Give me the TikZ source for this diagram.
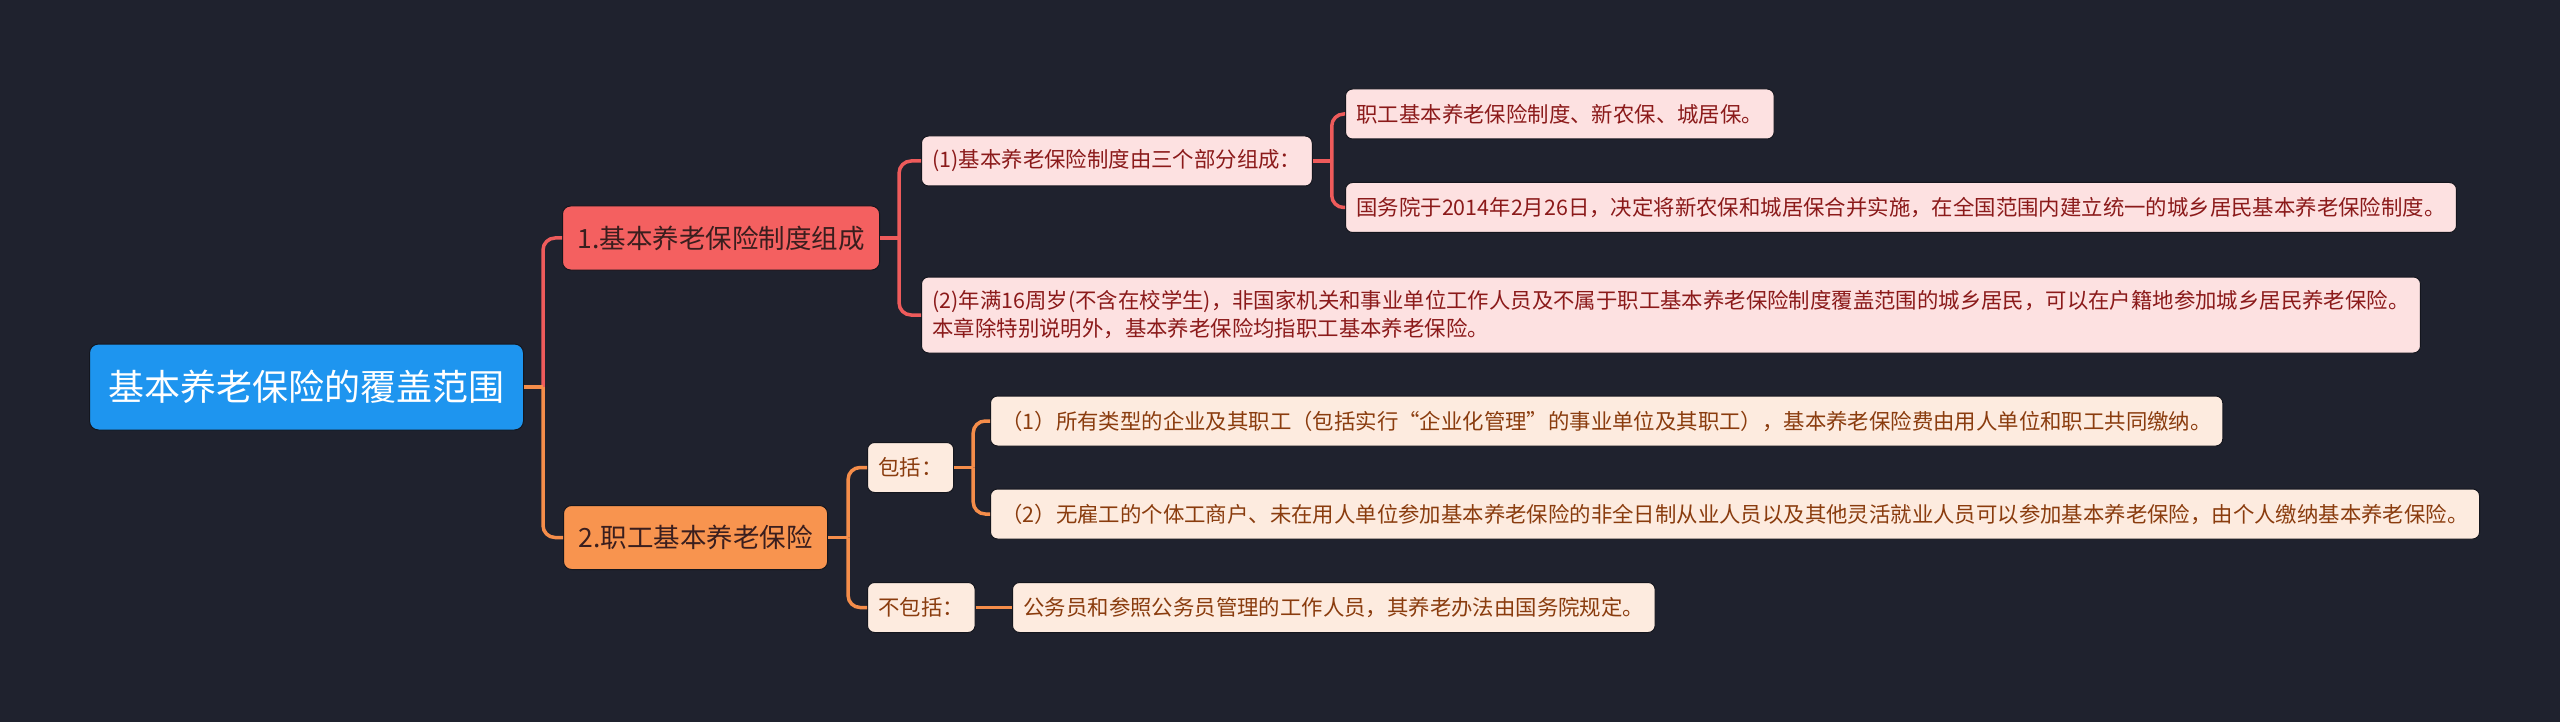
\documentclass[tikz,border=0pt]{standalone}
\usepackage{fontspec}
\setmainfont{Noto Sans CJK SC}
\usepackage{tikz}
\usetikzlibrary{positioning,calc}
\definecolor{bgDark}{HTML}{1F222E}
\definecolor{rootBlue}{HTML}{1E95EF}
\definecolor{redMain}{HTML}{F46060}
\definecolor{redLight}{HTML}{FDE1E1}
\definecolor{redText}{HTML}{8B1A1A}
\definecolor{redLink}{HTML}{EE5B5B}
\definecolor{orMain}{HTML}{F8944F}
\definecolor{orLight}{HTML}{FDEBDF}
\definecolor{orText}{HTML}{8A3C0E}
\definecolor{orLink}{HTML}{F58D4A}
\definecolor{topText}{HTML}{3A1E1E}
\definecolor{edgeDark}{HTML}{14161E}
\tikzset{
  rootbox/.style={rectangle, rounded corners=9pt, fill=rootBlue, draw=edgeDark, line width=1pt, text=white, anchor=west, minimum height=86pt, inner xsep=19pt, font=\fontsize{36}{43}\selectfont},
  mainbox/.style={rectangle, rounded corners=8pt, draw=edgeDark, line width=1pt, anchor=west, minimum height=64pt, inner xsep=15pt, text=topText, font=\fontsize{26.5}{32}\selectfont},
  leafbox/.style={rectangle, rounded corners=7pt, draw=edgeDark, line width=1pt, anchor=west, minimum height=50pt, inner xsep=11pt, align=left, font=\fontsize{21.4}{28}\selectfont},
  redleaf/.style={leafbox, fill=redLight, text=redText},
  orleaf/.style={leafbox, fill=orLight, text=orText},
  link/.style={line width=3.5pt},
  elbow/.style={link, rounded corners=12pt}
}

\begin{document}
\begin{tikzpicture}[x=1pt, y=-1pt]
  \fill[bgDark] (0,0) rectangle (2560,722);
  \useasboundingbox (0,0) rectangle (2560,722);

  % root and main branches
  \node[rootbox] (root) at (89,387) {基本养老保险的覆盖范围};
  \node[mainbox, fill=redMain] (sys) at (562,238) {1.基本养老保险制度组成};
  \node[mainbox, fill=orMain] (emp) at (563,537.5) {2.职工基本养老保险};

  % first branch
  \node[redleaf] (parts) at (921,161) {(1)基本养老保险制度由三个部分组成：};
  \node[redleaf] (partsA) at (1345,114) {职工基本养老保险制度、新农保、城居保。};
  \node[redleaf] (partsB) at (1345,207.5) {国务院于2014年2月26日，决定将新农保和城居保合并实施，在全国范围内建立统一的城乡居民基本养老保险制度。};
  \node[redleaf, minimum height=76pt] (resid) at (921,315) {(2)年满16周岁(不含在校学生)，非国家机关和事业单位工作人员及不属于职工基本养老保险制度覆盖范围的城乡居民，可以在户籍地参加城乡居民养老保险。\\本章除特别说明外，基本养老保险均指职工基本养老保险。};

  % second branch
  \node[orleaf] (incl) at (867,467.5) {包括：};
  \node[orleaf] (excl) at (867,607.5) {不包括：};
  \node[orleaf] (inclA) at (990,421) {（1）所有类型的企业及其职工（包括实行“企业化管理”的事业单位及其职工），基本养老保险费由用人单位和职工共同缴纳。};
  \node[orleaf] (inclB) at (990,514) {（2）无雇工的个体工商户、未在用人单位参加基本养老保险的非全日制从业人员以及其他灵活就业人员可以参加基本养老保险，由个人缴纳基本养老保险。};
  \node[orleaf] (exclA) at (1012,607.5) {公务员和参照公务员管理的工作人员，其养老办法由国务院规定。};

  % connectors
  \path (root.east) ++(19,0) coordinate (rootJ);
  \draw[elbow, draw=redLink] (rootJ) |- (sys.west);
  \draw[elbow, draw=orLink] (rootJ) |- (emp.west);
  \draw[link, draw=orLink] (root.east) -- (rootJ);

  \draw[link, draw=redLink] (sys.east) -- ++(19,0) coordinate (sysJ);
  \draw[elbow, draw=redLink] (sysJ) |- (parts.west);
  \draw[elbow, draw=redLink] (sysJ) |- (resid.west);

  \draw[link, draw=redLink] (parts.east) -- ++(19,0) coordinate (partsJ);
  \draw[elbow, draw=redLink] (partsJ) |- (partsA.west);
  \draw[elbow, draw=redLink] (partsJ) |- (partsB.west);

  \draw[link, draw=orLink] (emp.east) -- ++(20,0) coordinate (empJ);
  \draw[elbow, draw=orLink] (empJ) |- (incl.west);
  \draw[elbow, draw=orLink] (empJ) |- (excl.west);

  \draw[link, draw=orLink] (incl.east) -- ++(19,0) coordinate (inclJ);
  \draw[elbow, draw=orLink] (inclJ) |- (inclA.west);
  \draw[elbow, draw=orLink] (inclJ) |- (inclB.west);

  \draw[link, draw=orLink] (excl.east) -- (exclA.west);
\end{tikzpicture}
\end{document}
